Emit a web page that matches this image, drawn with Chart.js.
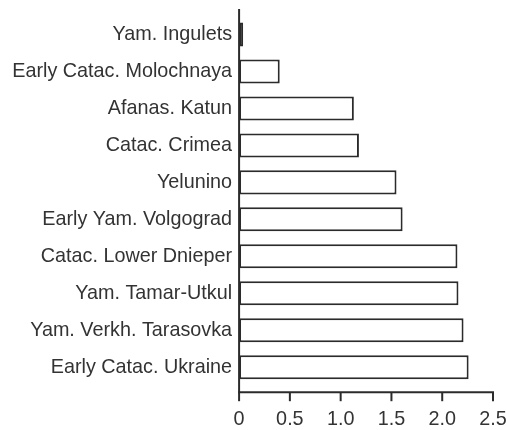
<!DOCTYPE html>
<html>
<head>
<meta charset="utf-8">
<script src="https://cdn.jsdelivr.net/npm/chart.js@4/dist/chart.umd.min.js"></script>
<style>
  html, body { margin: 0; padding: 0; background: #ffffff; }
  canvas { display: block; }
</style>
</head>
<body>
<canvas id="c" width="506" height="430" style="width:506px;height:430px"></canvas>
<script>
const categories = [
  'Yam. Ingulets',
  'Early Catac. Molochnaya',
  'Afanas. Katun',
  'Catac. Crimea',
  'Yelunino',
  'Early Yam. Volgograd',
  'Catac. Lower Dnieper',
  'Yam. Tamar-Utkul',
  'Yam. Verkh. Tarasovka',
  'Early Catac. Ukraine'
];
const values = [0.04, 0.40, 1.13, 1.18, 1.55, 1.61, 2.15, 2.16, 2.21, 2.26];
const xTickLabels = ['0', '0.5', '1.0', '1.5', '2.0', '2.5'];

const AXIS_COLOR = '#2b2b2b';
const TEXT_COLOR = '#333333';
const FONT = { family: '"Liberation Sans", Arial, sans-serif', size: 19.8 };

const axesPlugin = {
  id: 'customAxes',
  afterDraw(chart) {
    const ctx = chart.ctx;
    const xs = chart.scales.x;
    const area = chart.chartArea;
    const x0 = xs.getPixelForValue(xs.min);
    const x1 = xs.getPixelForValue(xs.max);
    const axisY = area.bottom + 6.5;
    ctx.save();
    ctx.strokeStyle = AXIS_COLOR;
    ctx.lineWidth = 2;
    ctx.lineCap = 'butt';
    ctx.beginPath();
    ctx.moveTo(x0, area.top - 7);
    ctx.lineTo(x0, axisY);
    ctx.stroke();
    ctx.beginPath();
    ctx.moveTo(x0 - 1, axisY);
    ctx.lineTo(x1 + 1, axisY);
    ctx.stroke();
    xs.ticks.forEach(t => {
      const px = xs.getPixelForValue(t.value);
      ctx.beginPath();
      ctx.moveTo(px, axisY);
      ctx.lineTo(px, axisY + 9);
      ctx.stroke();
    });
    ctx.restore();
  }
};

new Chart(document.getElementById('c'), {
  type: 'bar',
  data: {
    labels: categories,
    datasets: [{
      data: values,
      backgroundColor: '#ffffff',
      borderColor: AXIS_COLOR,
      borderWidth: 2,
      borderSkipped: false,
      barPercentage: 0.65,
      categoryPercentage: 1.0
    }]
  },
  options: {
    indexAxis: 'y',
    responsive: false,
    animation: false,
    events: [],
    devicePixelRatio: 1,
    layout: { padding: { left: 5.2, top: 16, right: 13, bottom: 0 } },
    plugins: { legend: { display: false }, tooltip: { enabled: false } },
    scales: {
      x: {
        type: 'linear',
        min: 0,
        max: 2.5,
        grid: { display: false, drawTicks: false },
        border: { display: false },
        afterFit(scale) { scale.paddingLeft = 0; scale.paddingRight = 0; scale.height = 44.3; },
        ticks: {
          stepSize: 0.5,
          padding: 22.2,
          color: TEXT_COLOR,
          font: FONT,
          maxRotation: 0,
          callback: (v, i) => xTickLabels[i]
        }
      },
      y: {
        type: 'category',
        grid: { display: false, drawTicks: false },
        border: { display: false },
        afterFit(scale) { scale.paddingTop = 0; scale.paddingBottom = 0; },
        ticks: {
          padding: 7,
          color: TEXT_COLOR,
          font: FONT,
          autoSkip: false
        }
      }
    }
  },
  plugins: [axesPlugin]
});
</script>
</body>
</html>
